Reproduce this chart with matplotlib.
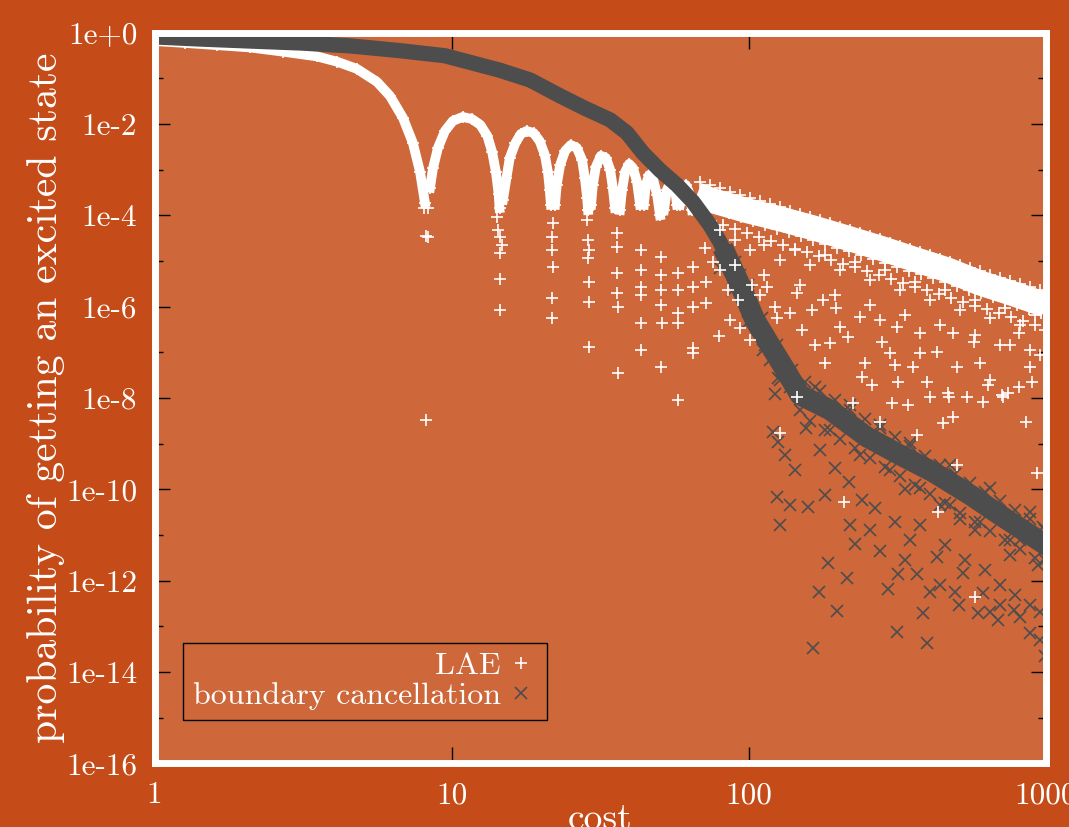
import numpy as np
import matplotlib
matplotlib.use("Agg")
import matplotlib.pyplot as plt
from matplotlib.ticker import FixedLocator, FixedFormatter, NullLocator, NullFormatter

nan = np.nan

# ---- LAE (white +) ----
# smooth start and the oscillation arches, nan separates the arches
lae_arch_x = [1.0, 1.27, 1.62, 2.10, 2.71, 3.52, 4.11, 4.80, 5.61, 6.20, 6.86, 7.41, 7.83, 8.13, nan,
              8.46, 8.66, 9.00, 9.50, 10.1, 10.9, 11.7, 12.5, 13.2, 13.7, 14.1, 14.4, 14.5, nan,
              14.9, 15.3, 15.7, 16.4, 17.1, 17.9, 18.9, 19.8, 20.6, 21.1, 21.4, 21.6, nan,
              22.3, 22.6, 23.2, 24.1, 25.2, 26.4, 27.5, 28.1, 28.6, 28.8, nan,
              29.5, 29.9, 30.6, 31.8, 33.1, 34.2, 34.9, 35.5, nan,
              36.9, 37.5, 38.4, 39.6, 40.8, 42.1, 43.1, nan,
              44.4, 45.1, 46.2, 47.6, 49.2, 50.3, nan,
              51.9, 53.1, 54.8, 56.5, 57.4, nan,
              58.7, 60.1, 61.5, 63.5, 64.5]
lae_arch_y = [0.65, 0.59, 0.53, 0.47, 0.38, 0.30, 0.23, 0.16, 0.083, 0.041, 0.0135, 3.8e-3, 8.9e-4, 1.9e-4, nan,
              4e-4, 1.08e-3, 3e-3, 7e-3, 0.0116, 0.0142, 0.0128, 9.5e-3, 5.4e-3, 2.4e-3, 8.9e-4, 2.9e-4, 1.44e-4, nan,
              2.2e-4, 6.5e-4, 1.8e-3, 3.8e-3, 6.0e-3, 7.0e-3, 6.3e-3, 4.2e-3, 2.1e-3, 8.9e-4, 3.6e-4, 1.7e-4, nan,
              1.7e-4, 4.6e-4, 1.26e-3, 2.55e-3, 3.45e-3, 3.0e-3, 1.62e-3, 6.5e-4, 2.4e-4, 1.3e-4, nan,
              1.7e-4, 4.6e-4, 1.14e-3, 2.0e-3, 1.8e-3, 9.8e-4, 4.0e-4, 1.44e-4, nan,
              1.3e-4, 3.6e-4, 8.9e-4, 1.33e-3, 1.08e-3, 5.4e-4, 1.7e-4, nan,
              1.7e-4, 4.6e-4, 7.6e-4, 6.5e-4, 2.8e-4, 1.0e-4, nan,
              1.3e-4, 3.6e-4, 5.6e-4, 4.0e-4, 1.7e-4, nan,
              1.7e-4, 4.0e-4, 4.6e-4, 2.8e-4, 1.3e-4]

# dense white wedge under the envelope for large cost
lae_env_x = [67.0, 75.9, 98.8, 128, 165, 214, 277, 358, 466, 601, 777, 1000]
lae_env_y = [2.8e-4, 2.07e-4, 1.26e-4, 8.3e-5, 5.3e-5, 3.2e-5, 1.92e-5, 1.11e-5, 6.4e-6, 3.3e-6, 1.92e-6, 1.09e-6]

# top edge of the envelope
lae_edge_x = [68.6, 74.1, 80.1, 86.6, 93.6, 101, 109, 118, 128, 138, 149, 161, 174, 188, 203, 220, 237, 256,
              277, 299, 323, 349, 378, 408, 441, 477, 515, 557, 602, 650, 703, 760, 821, 887, 958]
lae_edge_y = [5.4e-4, 4.6e-4, 4.0e-4, 3.2e-4, 2.8e-4, 2.4e-4, 2.06e-4, 1.77e-4, 1.52e-4, 1.24e-4, 1.07e-4,
              9.2e-5, 7.9e-5, 6.8e-5, 5.5e-5, 4.8e-5, 4.1e-5, 3.5e-5, 3.0e-5, 2.5e-5, 2.1e-5, 1.83e-5, 1.57e-5,
              1.35e-5, 1.1e-5, 9.5e-6, 8.2e-6, 7.0e-6, 6.0e-6, 4.9e-6, 4.2e-6, 3.65e-6, 3.1e-6, 2.7e-6, 2.3e-6]

# two dense rows of the fan just under the envelope
lae_row1_x = [71.3, 78.3, 85.9, 94.3, 103.5, 113.6, 124.6, 136.8, 150.1, 164.8, 180.8, 198.5, 217.8, 239.0,
              262.4, 287.9, 316, 346.8, 380.6, 417.7, 458.4, 503.1, 552.2, 606, 665, 730, 801, 879, 965]
lae_row1_y = [1.63e-4, 1.35e-4, 1.11e-4, 9.1e-5, 7.5e-5, 6.2e-5, 5.1e-5, 4.2e-5, 3.5e-5, 2.9e-5, 2.37e-5,
              1.95e-5, 1.61e-5, 1.33e-5, 1.09e-5, 9.0e-6, 7.5e-6, 6.1e-6, 5.1e-6, 4.2e-6, 3.4e-6, 2.8e-6,
              2.3e-6, 1.94e-6, 1.59e-6, 1.31e-6, 1.08e-6, 8.9e-7, 7.4e-7]
lae_row2_x = [74.7, 82.0, 90.0, 98.8, 108.4, 119.0, 130.5, 143.3, 157.2, 172.6, 189.4, 208, 228, 250,
              275, 302, 331, 363, 399, 438, 480, 527, 578, 635, 697, 765, 839, 921]
lae_row2_y = [7.3e-5, 6.0e-5, 4.95e-5, 4.06e-5, 3.35e-5, 2.77e-5, 2.27e-5, 1.87e-5, 1.56e-5, 1.29e-5,
              1.06e-5, 8.7e-6, 7.2e-6, 5.9e-6, 4.9e-6, 4.0e-6, 3.3e-6, 2.7e-6, 2.3e-6, 1.87e-6, 1.52e-6,
              1.25e-6, 1.03e-6, 8.7e-7, 7.1e-7, 5.8e-7, 4.8e-7, 4.0e-7]

# points in the dips and the scattered fan below the envelope
lae_pts_x = [8.07, 8.33, 8.20, 8.33, 8.20,
             14.2, 14.3, 14.5, 14.8, 14.5, 14.6, 14.6,
             22.0, 21.8, 21.8, 22.0, 21.8, 21.8,
             28.6, 28.8, 29.0, 28.8, 29.0, 29.0, 29.0,
             36.1, 36.1, 36.1, 36.1, 36.3, 36.3,
             43.4, 43.4, 43.4, 43.4, 43.4, 43.4,
             50.7, 50.7, 50.7, 50.7, 51.0, 50.7,
             57.9, 57.9, 57.9, 57.9, 57.9,
             65.0, 65.0, 65.0, 65.0, 65.0,
             72, 72, 79.5, 75.9, 71.3, 80, 86.6, 85.3, 93.6, 92.2, 101, 102.6, 109, 115, 123, 125, 138,
             145, 151, 164, 167, 178, 181, 188, 197, 203, 216, 225, 237, 241, 246, 260, 277, 281, 299,
             311, 316, 318, 343, 358, 378, 378, 400, 408, 431, 450, 468, 487, 487, 502, 544, 575, 602,
             616, 650, 703, 720, 748, 815, 815, 860, 887, 887, 901, 937, 369, 277, 502, 435, 580, 209,
             145, 128, 304, 472, 640, 714,
             80, 90, 101, 113, 128, 143, 161, 181, 203, 228, 256, 288, 323, 364, 408, 459, 515, 580,
             650, 731, 821, 921, 995, 90, 113, 149, 195, 256, 336, 441, 580, 760, 958]
lae_pts_y = [1.44e-4, 1.44e-4, 3.5e-5, 3.4e-5, 3.3e-9,
             9.2e-5, 4.8e-5, 3.4e-5, 2.2e-5, 1.5e-5, 4.0e-6, 8.5e-7,
             6.8e-5, 3.4e-5, 1.74e-5, 7.4e-6, 1.55e-6, 5.7e-7,
             7.9e-5, 2.9e-5, 1.74e-5, 1.16e-5, 3.5e-6, 1.27e-6, 1.3e-7,
             4.1e-5, 2.0e-5, 5.5e-6, 2.0e-6, 9.9e-7, 3.5e-8,
             1.74e-5, 6.4e-6, 2.7e-6, 1.8e-6, 4.4e-7, 1.1e-7,
             1.22e-5, 4.9e-6, 2.3e-6, 1.09e-6, 4.4e-7, 4.8e-8,
             5.5e-6, 2.3e-6, 7.3e-7, 4.4e-7, 9.1e-9,
             7.4e-6, 2.7e-6, 9.9e-7, 1.25e-7, 9.7e-8,
             3.5e-6, 1.2e-6, 2.3e-7, 9.5e-6, 1.9e-5, 6.4e-6, 5.1e-7, 2.3e-6, 3.4e-7, 1.4e-6, 1.87e-7,
             3.0e-6, 1.8e-6, 2.7e-6, 9.9e-7, 5.7e-7, 7.3e-7,
             2.0e-6, 3.1e-7, 8.5e-7, 1.45e-7, 1.4e-6, 5.9e-8, 1.6e-7, 9.4e-7, 3.6e-7, 2.2e-7, 7.8e-9,
             5.9e-7, 2.9e-8, 5.9e-8, 1.9e-8, 5.1e-7, 1.7e-7, 9.7e-8,
             5.3e-8, 3.6e-7, 2.2e-8, 7.1e-9, 4.8e-8, 2.65e-7, 9.7e-8, 2.2e-8, 1.05e-8, 1.02e-7, 2.85e-9,
             1.3e-8, 3.9e-9, 2.65e-7, 4.8e-8, 1.05e-8, 1.7e-7, 5.9e-8,
             8.2e-9, 2.5e-8, 1.45e-7, 1.05e-8, 1.3e-8, 2.65e-7, 1.75e-8, 3e-9, 1.1e-7, 4.8e-8, 2.2e-8,
             2.3e-10, 1.55e-9, 3e-9, 3.4e-10, 3.2e-11, 4.4e-13, 5.3e-11,
             1.05e-8, 1.7e-9, 7.8e-9, 1.05e-8, 1.9e-8, 1.17e-8,
             4.8e-5, 2.9e-5, 1.74e-5, 2.2e-5, 1.05e-5, 1.74e-5, 8.2e-6, 1.35e-5, 6.4e-6, 9.5e-6, 3.8e-6,
             6.4e-6, 2.3e-6, 3.5e-6, 1.4e-6, 2.3e-6, 8.5e-7, 1.4e-6,
             5.7e-7, 9.4e-7, 4e-7, 6.6e-7, 3.1e-7, 8.2e-6, 4.9e-6, 3.0e-6, 1.8e-6, 1.09e-6, 6.6e-7,
             4.0e-7, 2.4e-7, 1.45e-7, 8.8e-8]

# ---- boundary cancellation (grey x) ----
bc_band_x = [1.0, 1.42, 2.10, 3.09, 4.55, 6.71, 9.50, 14.5, 18.4, 23.2, 28.1, 34.2, 39.0, 44.1, 50.3,
             57.4, 65.0, 74.1, 80.1, 84.6]
bc_band_y = [0.80, 0.72, 0.65, 0.59, 0.51, 0.40, 0.31, 0.15, 0.091, 0.041, 0.022, 0.0122, 6.3e-3, 2.3e-3,
             9.7e-4, 4.6e-4, 1.95e-4, 6.1e-5, 2.6e-5, 1.23e-5]

bc_tail_x = [84.6, 93.6, 105, 118, 133, 149, 188, 250, 323, 418, 557, 702, 1000]
bc_tail_y = [1.23e-5, 3.0e-6, 5.1e-7, 1.45e-7, 4.1e-8, 1.17e-8, 5.5e-9, 1.41e-9, 5.7e-10, 2.4e-10,
             7.6e-11, 2.75e-11, 6.1e-12]

# upper and lower fringe of the dense tail
bc_up_x = [155, 174, 195.5, 220, 247, 277, 311, 349, 392, 441, 495, 557, 626, 703, 790, 887, 978,
           90, 99.5, 110.7, 125, 140]
bc_up_y = [2.25e-8, 1.43e-8, 9.1e-9, 5.5e-9, 3.5e-9, 2.2e-9, 1.4e-9, 8.9e-10, 5.4e-10, 3.4e-10, 2.2e-10,
           1.4e-10, 8.8e-11, 5.6e-11, 3.6e-11, 2.3e-11, 1.5e-11,
           9.5e-6, 3e-6, 5.7e-7, 1.45e-7, 4.1e-8]
bc_lo_x = [161, 181, 203, 228, 256, 288, 323, 363, 408, 459, 515, 580, 650, 731, 821, 922,
           80, 88.6, 99.5, 111.6, 126]
bc_lo_y = [3.15e-9, 2e-9, 1.27e-9, 8.1e-10, 4.9e-10, 3.1e-10, 2.0e-10, 1.25e-10, 8e-11, 5.1e-11, 3.1e-11,
           1.95e-11, 1.23e-11, 7.9e-12, 5e-12, 3.2e-12,
           7e-6, 2.3e-6, 4.6e-7, 1.1e-7, 2.75e-8]

bc_pts_x = [125, 138, 158, 128, 185, 215, 172, 198, 165, 315, 387, 400, 295, 277, 228, 318, 370, 408, 430,
            528, 510, 590, 690, 780, 887, 615, 821, 958, 995, 121, 126,
            156, 174, 195, 218, 240, 267, 310, 349, 458, 535, 625, 703, 790, 887, 958, 703, 650, 441, 497,
            336, 256, 220, 181, 143, 133, 149, 167, 220, 277, 349, 477, 650, 887, 109, 97, 114, 93.6, 90,
            101, 118, 128, 138, 123, 995, 995, 821, 760, 580, 441, 336, 945, 378, 515,
            188, 237, 299, 378, 477, 602, 760]
bc_pts_y = [6.9e-11, 4.6e-11, 4.2e-11, 1.7e-11, 2.5e-12, 1.16e-12, 5.7e-13, 2.2e-13, 3.4e-14, 7.6e-14,
            2e-13, 4.4e-14, 6.7e-13, 4.5e-12, 6.4e-12, 1.4e-12, 1.4e-12, 5.7e-13, 3.3e-12,
            1.5e-12, 3e-13, 2e-13, 1.4e-13, 2.3e-13, 7.2e-14, 5.5e-13, 1.6e-13, 5.1e-14, 2.2e-14, 1.8e-9, 1.1e-9,
            2.2e-9, 7.3e-10, 3e-10, 1.45e-10, 5.9e-11, 3.9e-11, 1.9e-11, 7.9e-12, 6.1e-12, 2.9e-12, 1.7e-12,
            8.1e-13, 4.9e-13, 3e-13, 2.1e-13, 3e-13, 2.1e-13, 8.1e-13, 5.7e-13,
            2.9e-12, 1.3e-11, 1.7e-11, 7.6e-11, 2.7e-10, 5.7e-10, 5.5e-9, 1.7e-8, 7.1e-9, 2.6e-9, 1.04e-9,
            3.4e-10, 1.07e-10, 3.2e-11, 3.1e-7, 1.4e-6, 1.45e-7, 4.9e-6, 7e-6,
            2.3e-6, 6.8e-8, 2.5e-8, 1.7e-8, 1.2e-8, 1.3e-11, 2.9e-12, 7.9e-12, 3.7e-12, 1.3e-11, 4.6e-11,
            1e-10, 2.2e-12, 1.7e-11, 2.2e-11,
            2e-9, 5.7e-10, 2.7e-10, 1.07e-10, 4.6e-11, 1.95e-11, 7.9e-12]

x_ticks = [1, 10, 100, 1000]
x_labels = ['1', '10', '100', '1000']
y_major = [10.0 ** -k for k in range(0, 17, 2)]
y_labels = ['1e+0', '1e-2', '1e-4', '1e-6', '1e-8', '1e-10', '1e-12', '1e-14', '1e-16']
y_minor = [10.0 ** -k for k in range(1, 16, 2)]

outer_bg = '#c54c18'
inner_bg = '#ce673a'
grey = '#4d4d4d'

plt.rcParams['font.family'] = ['cmr10', 'DejaVu Serif']
plt.rcParams['axes.unicode_minus'] = False

fig = plt.figure(figsize=(10.69, 8.27), dpi=100, facecolor=outer_bg)
ax = fig.add_axes([0.1446, 0.0768, 0.8335, 0.8839])
ax.set_facecolor(inner_bg)
ax.set_xscale('log')
ax.set_yscale('log')

plus = dict(color='white', ms=8, mew=1.2, ls='none', marker='+')
cross = dict(color=grey, ms=8.5, mew=1.2, ls='none', marker='x')

# LAE
ax.plot(lae_arch_x, lae_arch_y, '-', color='white', lw=7, marker='+', ms=9, mew=1.2, zorder=2)
ax.plot(lae_env_x, lae_env_y, '-', color='white', lw=18, solid_capstyle='butt', zorder=2)
ax.plot(lae_edge_x, lae_edge_y, zorder=2, **plus)
ax.plot(lae_row1_x, lae_row1_y, zorder=2, **plus)
ax.plot(lae_row2_x, lae_row2_y, zorder=2, **plus)
h_lae, = ax.plot(lae_pts_x, lae_pts_y, zorder=2.2, **plus)

# boundary cancellation
ax.plot(bc_band_x, bc_band_y, '-', color=grey, lw=11, solid_capstyle='round', zorder=2.1)
ax.plot(bc_tail_x, bc_tail_y, '-', color=grey, lw=15, marker='x', ms=9, mew=1.2, zorder=2.1)
ax.plot(bc_up_x, bc_up_y, zorder=2.1, **cross)
ax.plot(bc_lo_x, bc_lo_y, zorder=2.1, **cross)
h_bc, = ax.plot(bc_pts_x, bc_pts_y, zorder=2.1, **cross)

ax.set_xlim(1, 1000)
ax.set_ylim(1e-16, 1)

ax.xaxis.set_major_locator(FixedLocator(x_ticks))
ax.xaxis.set_major_formatter(FixedFormatter(x_labels))
ax.xaxis.set_minor_locator(NullLocator())
ax.yaxis.set_major_locator(FixedLocator(y_major))
ax.yaxis.set_major_formatter(FixedFormatter(y_labels))
ax.yaxis.set_minor_locator(FixedLocator(y_minor))
ax.yaxis.set_minor_formatter(NullFormatter())

ax.tick_params(which='both', direction='in', color='black', top=True, right=True,
               labelcolor='white', labelsize=22.5)
ax.tick_params(axis='y', which='major', length=11, width=1, pad=12.5)
ax.tick_params(axis='y', which='minor', length=5.5, width=1)
ax.tick_params(axis='x', which='major', length=11.5, width=1, pad=13)

for sp in ax.spines.values():
    sp.set_color('white')
    sp.set_linewidth(5)
    sp.set_zorder(4)

fig.text(46 / 1069, 1 - 398 / 827, 'probability of getting an excited state', rotation=90,
         ha='center', va='center', color='white', fontsize=30)
fig.text(600 / 1069, -2 / 827, 'cost', ha='center', va='baseline', color='white', fontsize=27)

leg = ax.legend([h_lae, h_bc], ['LAE', 'boundary cancellation'], loc='lower left',
                bbox_to_anchor=(0.0319, 0.0595), borderaxespad=0, markerfirst=False,
                fancybox=False, edgecolor='black', facecolor=inner_bg, framealpha=1,
                fontsize=23, handlelength=1.0, handletextpad=0.15, borderpad=0.3,
                labelspacing=0.05, labelcolor='white')
leg.get_frame().set_linewidth(1.0)
leg.set_zorder(6)

fig.savefig('out.png', dpi=100, facecolor=outer_bg)
